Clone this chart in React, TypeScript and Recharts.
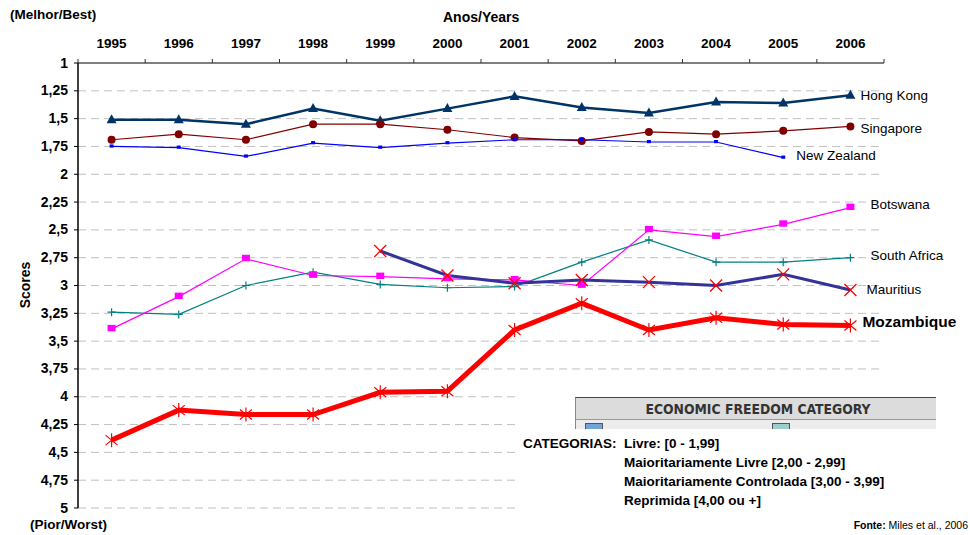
import React from 'react';
import { LineChart, Line, XAxis, YAxis, CartesianGrid, LabelList } from 'recharts';

const YEARS = ['1995', '1996', '1997', '1998', '1999', '2000', '2001', '2002', '2003', '2004', '2005', '2006'];
const Y_TICKS = [1, 1.25, 1.5, 1.75, 2, 2.25, 2.5, 2.75, 3, 3.25, 3.5, 3.75, 4, 4.25, 4.5, 4.75, 5];

const HONG_KONG = [1.51, 1.51, 1.55, 1.41, 1.52, 1.41, 1.3, 1.4, 1.45, 1.35, 1.36, 1.29];
const SINGAPORE = [1.69, 1.64, 1.69, 1.55, 1.55, 1.6, 1.67, 1.7, 1.62, 1.64, 1.61, 1.57];
const NEW_ZEALAND = [1.75, 1.76, 1.84, 1.72, 1.76, 1.72, 1.69, 1.69, 1.71, 1.71, 1.85, null];
const BOTSWANA = [3.39, 3.1, 2.76, 2.91, 2.92, 2.94, 2.95, 3.0, 2.5, 2.56, 2.45, 2.3];
const SOUTH_AFRICA = [3.24, 3.26, 3.0, 2.88, 2.99, 3.02, 3.01, 2.79, 2.59, 2.79, 2.79, 2.75];
const MAURITIUS = [null, null, null, null, 2.69, 2.91, 2.98, 2.95, 2.97, 3.0, 2.9, 3.04];
const MOZAMBIQUE = [4.39, 4.12, 4.16, 4.16, 3.96, 3.95, 3.4, 3.16, 3.4, 3.29, 3.35, 3.36];

const CATEGORIES = [
  'Livre: [0 - 1,99]',
  'Maioritariamente Livre [2,00 - 2,99]',
  'Maioritariamente Controlada [3,00 - 3,99]',
  'Reprimida [4,00 ou +]',
];

const data = YEARS.map((year, i) => ({
  x: i,
  year,
  hk: HONG_KONG[i],
  sg: SINGAPORE[i],
  nz: NEW_ZEALAND[i],
  bw: BOTSWANA[i],
  za: SOUTH_AFRICA[i],
  mu: MAURITIUS[i],
  mz: MOZAMBIQUE[i],
}));

const FONT = 'Arial, "Liberation Sans", sans-serif';
const W = 970;
const H = 535;
const MARGIN = { top: 33, right: 86, bottom: 27, left: 18 };
const Y_AXIS_W = 60;
const PLOT_W = W - MARGIN.left - MARGIN.right - Y_AXIS_W;
const HALF_BAND = PLOT_W / YEARS.length / 2;
const X_TICKS = YEARS.map((_, i) => i - 0.5).concat([YEARS.length - 0.5]);

const fmt = (v: number) => String(v).replace('.', ',');

const empty = (key: any) => <g key={key} />;

const triangle = (color: string) => (p: any) => {
  if (p.cy == null || p.value == null) return empty(p.key);
  const { cx, cy } = p;
  return <path key={p.key} d={`M${cx},${cy - 5.5}L${cx - 5},${cy + 3.5}L${cx + 5},${cy + 3.5}Z`} fill={color} />;
};
const circle = (color: string) => (p: any) => {
  if (p.cy == null || p.value == null) return empty(p.key);
  return <circle key={p.key} cx={p.cx} cy={p.cy} r={4} fill={color} />;
};
const square = (color: string, s: number) => (p: any) => {
  if (p.cy == null || p.value == null) return empty(p.key);
  return <rect key={p.key} x={p.cx - s / 2} y={p.cy - s / 2} width={s} height={s * 0.8} fill={color} />;
};
const plus = (color: string) => (p: any) => {
  if (p.cy == null || p.value == null) return empty(p.key);
  const { cx, cy } = p;
  return <path key={p.key} d={`M${cx - 4},${cy}H${cx + 4}M${cx},${cy - 4}V${cy + 4}`} stroke={color} strokeWidth={1.2} fill="none" />;
};
const cross = (color: string) => (p: any) => {
  if (p.cy == null || p.value == null) return empty(p.key);
  const { cx, cy } = p;
  return <path key={p.key} d={`M${cx - 6},${cy - 6}L${cx + 6},${cy + 6}M${cx - 6},${cy + 6}L${cx + 6},${cy - 6}`} stroke={color} strokeWidth={1.3} fill="none" />;
};
const star = (color: string) => (p: any) => {
  if (p.cy == null || p.value == null) return empty(p.key);
  const { cx, cy } = p;
  return (
    <path
      key={p.key}
      d={`M${cx - 6},${cy - 5}L${cx + 6},${cy + 5}M${cx - 6},${cy + 5}L${cx + 6},${cy - 5}M${cx},${cy - 7}V${cy + 7}`}
      stroke={color}
      strokeWidth={1.2}
      fill="none"
    />
  );
};

const endLabel = (text: string, lastIndex: number, dx: number, dy: number, bold = false) => (p: any) => {
  if (p.index !== lastIndex) return null;
  return (
    <text
      x={p.x + dx}
      y={p.y + dy}
      dominantBaseline="central"
      fontFamily={FONT}
      fontSize={bold ? 15.5 : 13.5}
      fontWeight={bold ? 'bold' : 'normal'}
      fill="#000"
    >
      {text}
    </text>
  );
};

const XTick = (p: any) => {
  const i = p.payload.value + 0.5;
  if (i >= YEARS.length) return <g />;
  return (
    <text x={p.x + HALF_BAND} y={p.y} dy={-9} textAnchor="middle" fontFamily={FONT} fontSize={13.5} fontWeight="bold" fill="#000">
      {YEARS[i]}
    </text>
  );
};

const YTick = (p: any) => (
  <text x={p.x} y={p.y} dy={4.5} textAnchor="end" fontFamily={FONT} fontSize={14} fontWeight="bold" fill="#000">
    {fmt(p.payload.value)}
  </text>
);

const bold: React.CSSProperties = { fontWeight: 'bold', fontFamily: FONT, color: '#000', position: 'absolute', whiteSpace: 'nowrap' };

export default function App() {
  return (
    <div style={{ position: 'absolute', left: 0, top: 0, width: W, height: H, background: '#fff', overflow: 'hidden' }}>
      <LineChart width={W} height={H} data={data} margin={MARGIN}>
        <CartesianGrid vertical={false} stroke="#c0c0c0" strokeDasharray="8 5" />
        <XAxis
          dataKey="x"
          type="number"
          orientation="top"
          domain={[-0.5, YEARS.length - 0.5]}
          ticks={X_TICKS}
          interval={0}
          height={30}
          tickSize={4}
          tick={<XTick />}
          axisLine={{ stroke: '#808080', strokeWidth: 2 }}
          tickLine={{ stroke: '#333' }}
        />
        <YAxis
          type="number"
          reversed
          domain={[1, 5]}
          ticks={Y_TICKS}
          interval={0}
          width={Y_AXIS_W}
          tickSize={4}
          tickMargin={6}
          tick={<YTick />}
          axisLine={{ stroke: '#000', strokeWidth: 1.5 }}
          tickLine={{ stroke: '#000' }}
        />
        <Line dataKey="hk" stroke="#003366" strokeWidth={2.5} dot={triangle('#003366')} isAnimationActive={false}>
          <LabelList content={endLabel('Hong Kong', 11, 10, 0)} />
        </Line>
        <Line dataKey="sg" stroke="#800000" strokeWidth={1.2} dot={circle('#800000')} isAnimationActive={false}>
          <LabelList content={endLabel('Singapore', 11, 10, 2)} />
        </Line>
        <Line dataKey="nz" stroke="#0000ff" strokeWidth={1.2} dot={square('#0000ff', 4)} isAnimationActive={false}>
          <LabelList content={endLabel('New Zealand', 10, 13, -2)} />
        </Line>
        <Line dataKey="za" stroke="#008080" strokeWidth={1.2} dot={plus('#008080')} isAnimationActive={false}>
          <LabelList content={endLabel('South Africa', 11, 20, -2)} />
        </Line>
        <Line dataKey="bw" stroke="#ff00ff" strokeWidth={1.2} dot={square('#ff00ff', 8)} isAnimationActive={false}>
          <LabelList content={endLabel('Botswana', 11, 20, -3)} />
        </Line>
        <Line dataKey="mu" stroke="#333399" strokeWidth={3} dot={cross('#ff0000')} isAnimationActive={false}>
          <LabelList content={endLabel('Mauritius', 11, 16, 0)} />
        </Line>
        <Line dataKey="mz" stroke="#ff0000" strokeWidth={5} dot={star('#ff0000')} isAnimationActive={false}>
          <LabelList content={endLabel('Mozambique', 11, 12, -4, true)} />
        </Line>
      </LineChart>

      <div style={{ ...bold, left: 10, top: 7, fontSize: 13.5 }}>(Melhor/Best)</div>
      <div style={{ ...bold, left: 443, top: 9, fontSize: 14 }}>Anos/Years</div>
      <div style={{ ...bold, left: 30, top: 517, fontSize: 13.5, lineHeight: '15px' }}>(Pior/Worst)</div>
      <div style={{ ...bold, left: 0, top: 277, fontSize: 14, width: 50, textAlign: 'center', transform: 'rotate(-90deg)' }}>Scores</div>

      <div style={{ position: 'absolute', left: 518, top: 388, width: 452, height: 147, background: '#fff' }}>
        <div
          style={{
            position: 'absolute',
            left: 57,
            top: 9,
            width: 360,
            height: 31,
            background: '#dcdcdc',
            borderTop: '1px solid #444',
            borderLeft: '1px solid #888',
            overflow: 'hidden',
          }}
        >
          <div
            style={{
              position: 'absolute',
              left: 0,
              top: 3,
              width: 364,
              textAlign: 'center',
              fontFamily: '"DejaVu Sans Condensed", "Liberation Sans Narrow", sans-serif',
              fontWeight: 'bold',
              fontStretch: 'condensed',
              fontSize: 13.8,
              color: '#333',
              whiteSpace: 'nowrap',
            }}
          >
            ECONOMIC FREEDOM CATEGORY
          </div>
          <div style={{ position: 'absolute', left: 0, top: 21, width: 360, height: 1, background: '#999' }} />
          <div style={{ position: 'absolute', left: 0, top: 22, width: 360, height: 10, background: '#ececec' }} />
          <div style={{ position: 'absolute', left: 9, top: 25, width: 16, height: 8, background: '#6fa5d8', border: '1px solid #555' }} />
          <div style={{ position: 'absolute', left: 196, top: 25, width: 16, height: 8, background: '#9ccccc', border: '1px solid #555' }} />
        </div>
        <div style={{ ...bold, left: 5, top: 48, fontSize: 13.5 }}>CATEGORIAS:</div>
        {CATEGORIES.map((c, i) => (
          <div key={c} style={{ ...bold, left: 106, top: 48 + i * 19, fontSize: 13.5 }}>
            {c}
          </div>
        ))}
        <div style={{ ...bold, fontWeight: 'normal', right: 2, top: 131, fontSize: 10.5 }}>
          <b>Fonte:</b> Miles et al., 2006
        </div>
      </div>
    </div>
  );
}
